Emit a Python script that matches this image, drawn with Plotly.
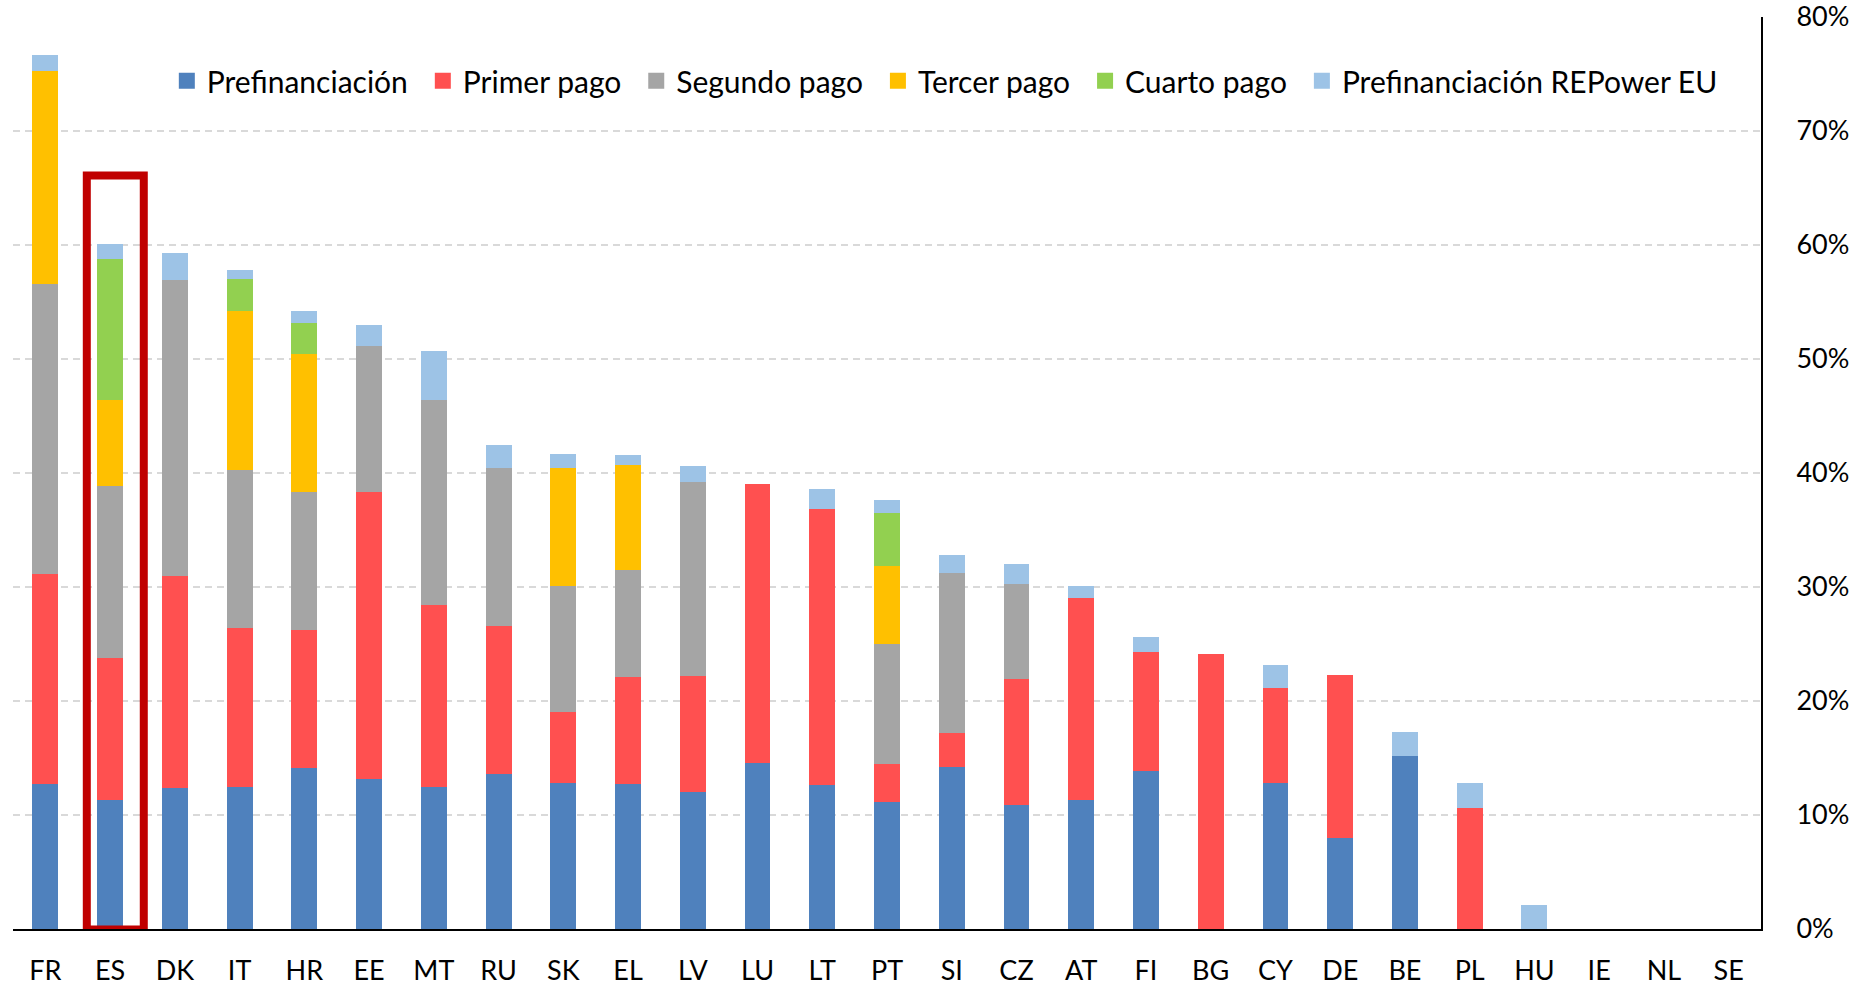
import plotly.graph_objects as go

# Porcentaje de fondos recibidos por país (Mecanismo de Recuperación)
countries = ["FR", "ES", "DK", "IT", "HR", "EE", "MT", "RU", "SK", "EL", "LV", "LU", "LT", "PT",
             "SI", "CZ", "AT", "FI", "BG", "CY", "DE", "BE", "PL", "HU", "IE", "NL", "SE"]

prefinanciacion = [12.7, 11.3, 12.4, 12.5, 14.1, 13.2, 12.5, 13.6, 12.8, 12.7, 12.0, 14.6, 12.6, 11.1,
                   14.2, 10.9, 11.3, 13.9, 0, 12.8, 8.0, 15.2, 0, 0, 0, 0, 0]
primer_pago = [18.4, 12.5, 18.6, 13.9, 12.1, 25.1, 15.9, 13.0, 6.2, 9.4, 10.2, 24.4, 24.2, 3.4,
               3.0, 11.0, 17.7, 10.4, 24.1, 8.3, 14.3, 0, 10.6, 0, 0, 0, 0]
segundo_pago = [25.5, 15.1, 25.9, 13.9, 12.1, 12.8, 18.0, 13.8, 11.1, 9.4, 17.0, 0, 0, 10.5,
                14.0, 8.4, 0, 0, 0, 0, 0, 0, 0, 0, 0, 0, 0]
tercer_pago = [18.7, 7.5, 0, 13.9, 12.1, 0, 0, 0, 10.3, 9.2, 0, 0, 0, 6.8,
               0, 0, 0, 0, 0, 0, 0, 0, 0, 0, 0, 0, 0]
cuarto_pago = [0, 12.4, 0, 2.8, 2.8, 0, 0, 0, 0, 0, 0, 0, 0, 4.7,
               0, 0, 0, 0, 0, 0, 0, 0, 0, 0, 0, 0, 0]
prefin_repower = [1.4, 1.3, 2.4, 0.8, 1.0, 1.9, 4.3, 2.1, 1.3, 0.9, 1.4, 0, 1.8, 1.1,
                  1.6, 1.7, 1.1, 1.3, 0, 2.1, 0, 2.1, 2.2, 2.1, 0, 0, 0]

y_ticks = [0, 10, 20, 30, 40, 50, 60, 70, 80]
y_labels = [f"{v}%" for v in y_ticks]

series = [
    ("Prefinanciación", prefinanciacion, "#4F81BD"),
    ("Primer pago", primer_pago, "#FF5050"),
    ("Segundo pago", segundo_pago, "#A5A5A5"),
    ("Tercer pago", tercer_pago, "#FFC000"),
    ("Cuarto pago", cuarto_pago, "#92D050"),
    ("Prefinanciación REPower EU", prefin_repower, "#9DC3E6"),
]

FONT = "Lato, Calibri, sans-serif"
PAD = "\u2004"  # un poco más de aire entre entradas de la leyenda

fig = go.Figure()
for name, vals, color in series:
    fig.add_trace(go.Bar(
        x=countries, y=vals, name=name, legendgroup=name, showlegend=False,
        marker=dict(color=color, line=dict(width=0)),
    ))
# entradas de leyenda con cuadrado más grande
for i, (name, vals, color) in enumerate(series):
    label = name + (PAD if i < len(series) - 1 else "")
    fig.add_trace(go.Scatter(
        x=[None], y=[None], name=label, legendgroup=name, mode="markers",
        marker=dict(symbol="square", size=18, color=color),
    ))

# recuadro rojo sobre España
fig.add_shape(
    type="rect", xref="x", yref="y",
    x0=0.64, x1=1.52, y0=-0.05, y1=66.1,
    line=dict(color="#C00000", width=8),
    fillcolor="rgba(0,0,0,0)", layer="above",
)

fig.update_layout(
    width=1860, height=987,
    barmode="stack", bargap=0.6,
    plot_bgcolor="white", paper_bgcolor="white",
    font=dict(family=FONT, size=27, color="black"),
    margin=dict(l=13, r=99, t=17, b=58),
    showlegend=True,
    legend=dict(
        orientation="h", x=0.088, y=0.93, xanchor="left", yanchor="middle",
        font=dict(family=FONT, size=30, color="black"),
        bgcolor="rgba(0,0,0,0)", traceorder="normal",
    ),
    xaxis=dict(
        type="category", categoryorder="array", categoryarray=countries,
        showline=True, linecolor="black", linewidth=2, automargin=False,
        ticks="", ticklabelstandoff=17, showgrid=False,
        tickfont=dict(family=FONT, size=27),
    ),
    yaxis=dict(
        side="right", range=[0, 80], tickmode="array", tickvals=y_ticks, ticktext=y_labels,
        showline=True, linecolor="black", linewidth=2, automargin=False,
        ticks="", ticklabelstandoff=28, ticklabeloverflow="allow",
        showgrid=True, gridcolor="#D9D9D9", gridwidth=1.5, griddash="7px,5px",
        zeroline=False, tickfont=dict(family=FONT, size=27),
    ),
)

fig.write_html(
    "out.html",
    config={"displayModeBar": False},
    post_script="document.body.style.margin='0';document.body.style.overflow='hidden';",
)
